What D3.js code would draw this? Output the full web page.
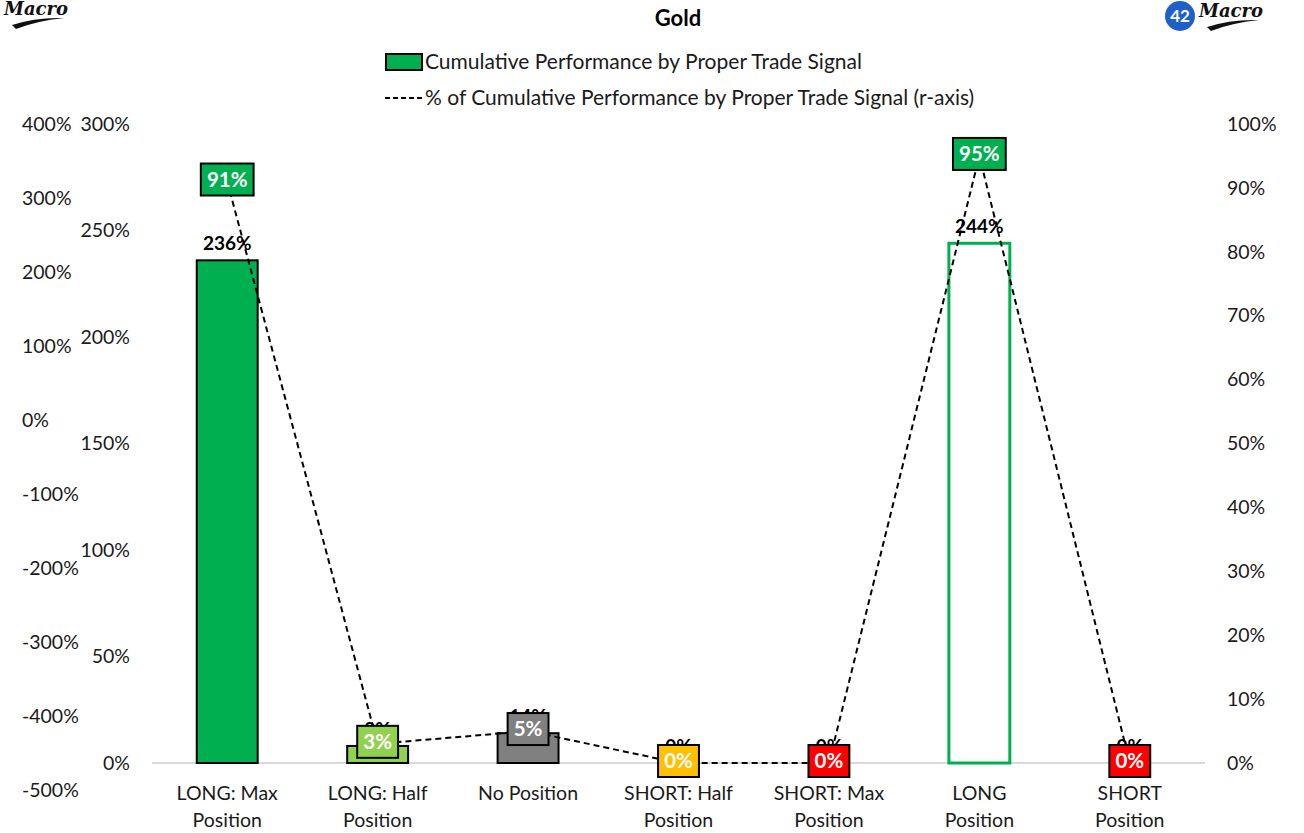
<!DOCTYPE html>
<html>
<head>
<meta charset="utf-8">
<script src="https://cdn.jsdelivr.net/npm/d3@7/dist/d3.min.js"></script>
<style>
  html, body { margin: 0; padding: 0; background: #fff; }
  svg { display: block; font-family: Lato, "Open Sans", sans-serif; }
</style>
</head>
<body>
<svg id="chart" width="1304" height="833"></svg>
<script>
// Trade-signal categories (label lines)
const categories = [
  ["LONG: Max", "Position"],
  ["LONG: Half", "Position"],
  ["No Position"],
  ["SHORT: Half", "Position"],
  ["SHORT: Max", "Position"],
  ["LONG", "Position"],
  ["SHORT", "Position"]
];
// Cumulative performance by signal (%), inner left axis
const performance = [236, 8, 14, 0, 0, 244, 0];
// Share of cumulative performance (%), right axis
const shareOfPerformance = [91, 3, 5, 0, 0, 95, 0];

// Axis tick values
const outerLeftTicks = [400, 300, 200, 100, 0, -100, -200, -300, -400, -500];
const innerLeftTicks = [0, 50, 100, 150, 200, 250, 300];
const rightTicks = [0, 10, 20, 30, 40, 50, 60, 70, 80, 90, 100];

// Colours per category
const barFill   = ["#00B050", "#92D050", "#808080", "#FFC000", "#FF0000", "#FFFFFF", "#FF0000"];
const barStroke = ["#000", "#000", "#000", "#000", "#000", "#00B050", "#000"];
const boxFill   = ["#00B050", "#92D050", "#808080", "#FFC000", "#FF0000", "#00B050", "#FF0000"];

const svg = d3.select("#chart");
const keys = categories.map(c => c.join(" "));

const plotLeft = 152, plotRight = 1205, plotTop = 124, baseY = 763;

const x = d3.scaleBand().domain(keys).range([plotLeft, plotRight])
  .paddingInner(0.595).paddingOuter(0.2975);
const cx = k => x(k) + x.bandwidth() / 2;

const yBar = d3.scaleLinear().domain([0, 300]).range([baseY, plotTop]);
const yOuter = d3.scaleLinear().domain([-500, 400]).range([790, plotTop]);
const yRight = d3.scaleLinear().domain([0, 100]).range([baseY, plotTop]);

const pct = d => d + "%";
const tickFont = "19.5px";

// Outer left axis (labels only)
const gOuter = svg.append("g").attr("transform", "translate(22,0)")
  .call(d3.axisRight(yOuter).tickValues(outerLeftTicks).tickFormat(pct).tickSize(0).tickPadding(0));
// Inner left axis (bar scale)
const gInner = svg.append("g").attr("transform", "translate(130,0)")
  .call(d3.axisLeft(yBar).tickValues(innerLeftTicks).tickFormat(pct).tickSize(0).tickPadding(0));
// Right axis (line scale)
const gRight = svg.append("g").attr("transform", "translate(1227,0)")
  .call(d3.axisRight(yRight).tickValues(rightTicks).tickFormat(pct).tickSize(0).tickPadding(0));

[gOuter, gInner, gRight].forEach(g => {
  g.select(".domain").remove();
  g.selectAll("text").attr("font-size", tickFont).attr("fill", "#1a1a1a")
    .attr("font-family", "Lato, sans-serif");
});

// Baseline
svg.append("line")
  .attr("x1", plotLeft).attr("x2", plotRight)
  .attr("y1", baseY).attr("y2", baseY)
  .attr("stroke", "#d9d9d9").attr("stroke-width", 2);

// Bars
svg.append("g").selectAll("rect").data(performance).join("rect")
  .attr("x", (d, i) => x(keys[i]))
  .attr("y", d => yBar(d))
  .attr("width", x.bandwidth())
  .attr("height", d => baseY - yBar(d))
  .attr("fill", (d, i) => barFill[i])
  .attr("stroke", (d, i) => barStroke[i])
  .attr("stroke-width", (d, i) => i === 5 ? 3 : 2);

// Bar value labels
svg.append("g").selectAll("text").data(performance).join("text")
  .attr("x", (d, i) => cx(keys[i]))
  .attr("y", d => yBar(d) - 10)
  .attr("text-anchor", "middle")
  .attr("font-size", "19px").attr("font-weight", "bold").attr("fill", "#000")
  .text(pct);

// Dashed share line
const line = d3.line().x((d, i) => cx(keys[i])).y(d => yRight(d));
svg.append("path").datum(shareOfPerformance)
  .attr("d", line)
  .attr("fill", "none").attr("stroke", "#000")
  .attr("stroke-width", 2).attr("stroke-dasharray", "6,4");

// Share value boxes
const boxes = svg.append("g").selectAll("g").data(shareOfPerformance).join("g")
  .attr("transform", (d, i) => `translate(${cx(keys[i])},${yRight(d) - 2})`);
boxes.append("text")
  .attr("text-anchor", "middle").attr("dy", "0.36em")
  .attr("font-size", "20.5px").attr("font-weight", "bold").attr("fill", "#fff")
  .text(pct);
boxes.each(function(d, i) {
  const g = d3.select(this);
  const bb = g.select("text").node().getBBox();
  const w = bb.width + 12, h = 32;
  g.insert("rect", "text")
    .attr("x", -w / 2).attr("y", -h / 2)
    .attr("width", w).attr("height", h)
    .attr("fill", boxFill[i]).attr("stroke", "#000").attr("stroke-width", 2);
});

// Category labels
const cat = svg.append("g").selectAll("text").data(categories).join("text")
  .attr("x", (d, i) => cx(keys[i]))
  .attr("y", 800)
  .attr("text-anchor", "middle")
  .attr("font-size", "19.5px").attr("fill", "#1a1a1a");
cat.selectAll("tspan").data(d => d).join("tspan")
  .attr("x", function() { return this.parentNode.getAttribute("x"); })
  .attr("dy", (d, j) => j === 0 ? 0 : 27)
  .text(d => d);

// Title
svg.append("text").attr("x", 678).attr("y", 26).attr("text-anchor", "middle")
  .attr("font-size", "22px").attr("font-weight", "bold").attr("fill", "#000")
  .text("Gold");

// Legend
const legend = svg.append("g");
legend.append("rect").attr("x", 386).attr("y", 54).attr("width", 36).attr("height", 16)
  .attr("fill", "#00B050").attr("stroke", "#000").attr("stroke-width", 2);
legend.append("text").attr("x", 425).attr("y", 69)
  .attr("font-size", "21px").attr("fill", "#1a1a1a")
  .text("Cumulative Performance by Proper Trade Signal");
legend.append("line").attr("x1", 385).attr("x2", 423).attr("y1", 98).attr("y2", 98)
  .attr("stroke", "#000").attr("stroke-width", 2).attr("stroke-dasharray", "5,3");
legend.append("text").attr("x", 425).attr("y", 105)
  .attr("font-size", "21px").attr("fill", "#1a1a1a")
  .text("% of Cumulative Performance by Proper Trade Signal (r-axis)");

// Brand marks
function brand(g, x0, y0) {
  g.append("text").attr("x", x0).attr("y", y0)
    .attr("font-family", "DejaVu Serif, serif").attr("font-style", "italic")
    .attr("font-weight", "bold").attr("font-size", "18px").attr("fill", "#111")
    .text("Macro");
  g.append("path")
    .attr("d", `M${x0 + 8},${y0 + 10} Q${x0 + 32},${y0 + 2} ${x0 + 60},${y0 + 3} Q${x0 + 32},${y0 + 6} ${x0 + 12},${y0 + 14} Z`)
    .attr("fill", "#111");
}
brand(svg.append("g"), 4, 15);
const rb = svg.append("g");
rb.append("circle").attr("cx", 1180).attr("cy", 16).attr("r", 15).attr("fill", "#1f5fc8");
rb.append("text").attr("x", 1180).attr("y", 22).attr("text-anchor", "middle")
  .attr("font-size", "17px").attr("font-weight", "bold").attr("fill", "#fff").text("42");
brand(rb, 1199, 17);
</script>
</body>
</html>
